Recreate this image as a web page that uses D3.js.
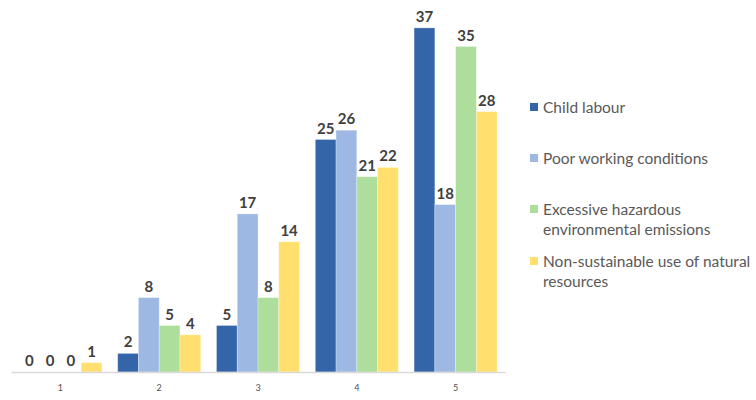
<!DOCTYPE html>
<html><head><meta charset="utf-8">
<script src="https://cdn.jsdelivr.net/npm/d3@7"></script>
<style>body{margin:0;background:#fff}svg{display:block}</style>
</head><body>
<svg id="c" width="756" height="400"></svg>
<script>
const categories = ["1","2","3","4","5"];
const seriesNames = ["Child labour","Poor working conditions","Excessive hazardous environmental emissions","Non-sustainable use of natural resources"];
const childLabour = [0,2,5,25,37];
const poorWorking = [0,8,17,26,18];
const hazardous = [0,5,8,21,35];
const nonSustainable = [1,4,14,22,28];
const colors = ["#3565A9","#9DB8E3","#AEDE9B","#FFDF6E"];
const legendLines = [["Child labour"],["Poor working conditions"],["Excessive hazardous","environmental emissions"],["Non-sustainable use of natural","resources"]];

const series = [childLabour, poorWorking, hazardous, nonSustainable];
const svg = d3.select("#c");
const x0 = d3.scaleBand().domain(categories).range([11,505]).paddingInner(0.16).paddingOuter(0.08);
const x1 = d3.scaleBand().domain(d3.range(series.length)).range([0,x0.bandwidth()]);
const y = d3.scaleLinear().domain([0,40]).range([372,0]);

const g = svg.append("g");
categories.forEach((c,ci)=>{
  series.forEach((s,si)=>{
    const v = s[ci];
    const bx = x0(c)+x1(si);
    if (v>0) g.append("rect").attr("x",bx).attr("y",y(v)).attr("width",x1.bandwidth()).attr("height",y(0)-y(v))
      .attr("fill",colors[si]).attr("stroke","#fff").attr("stroke-opacity",0.35).attr("stroke-width",0.8);
    g.append("text").attr("x",bx+x1.bandwidth()/2).attr("y",y(v)-6).attr("text-anchor","middle")
      .attr("font-family","Lato, 'Open Sans', sans-serif").attr("font-weight",700).attr("font-size",15)
      .attr("fill","#404040").text(v);
  });
});

const ax = svg.append("g").attr("transform","translate(0,372)").call(d3.axisBottom(x0).tickSize(0).tickPadding(13));
ax.select(".domain").attr("stroke","#d9d9d9").attr("stroke-width",1.5);
ax.selectAll("text").attr("font-family","Lato, sans-serif").attr("font-size",9).attr("fill","#505050");

const lg = svg.append("g");
const legY = [108,159,210,262];
legendLines.forEach((lines,i)=>{
  lg.append("rect").attr("x",530).attr("y",legY[i]-5).attr("width",8).attr("height",8).attr("fill",colors[i]);
  lines.forEach((t,j)=>{
    lg.append("text").attr("x",543).attr("y",legY[i]+5+j*19.5)
      .attr("font-family","Lato, sans-serif").attr("font-size",15.5).attr("fill","#595959").text(t);
  });
});
</script>
</body></html>
